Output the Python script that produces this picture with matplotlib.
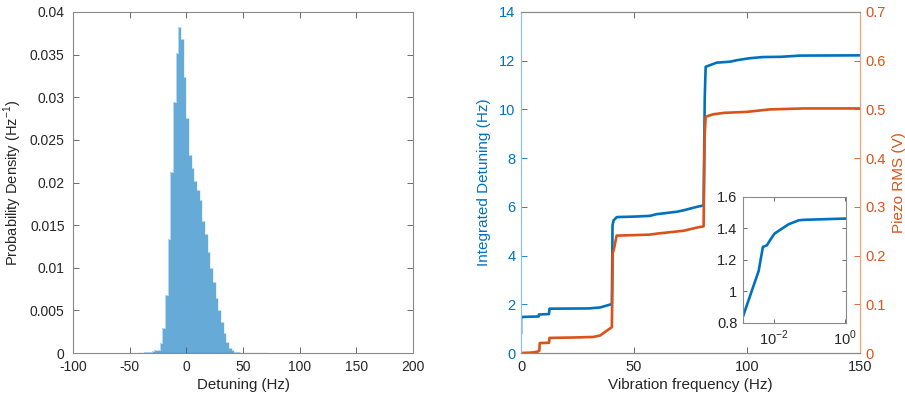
import matplotlib
matplotlib.use("Agg")
import matplotlib.pyplot as plt
import numpy as np

plt.rcParams['font.family'] = ['Liberation Sans', 'DejaVu Sans']
plt.rcParams['font.size'] = 10
plt.rcParams['mathtext.fontset'] = 'custom'
plt.rcParams['mathtext.rm'] = 'Liberation Sans'

# ---------------- Histogram data ----------------
bin_start = -42.3
bin_width = 2.35
hist_density = [0.00004, 0.00005, 0.00008, 0.0001, 0.00015, 0.0002, 0.0003, 0.0004,
                0.0012, 0.0029, 0.0068, 0.0134, 0.0212, 0.0295, 0.0352, 0.0382,
                0.0368, 0.0324, 0.0276, 0.0232, 0.0217, 0.0202, 0.0191, 0.0179,
                0.0155, 0.0140, 0.0118, 0.0100, 0.0083, 0.0064, 0.0051, 0.0036,
                0.0023, 0.0013, 0.0006, 0.0003, 0.00015, 0.0001, 0.00006, 0.00004,
                0.00003, 0.00003, 0.00002, 0.00002, 0.00002, 0.00001, 0.00001, 0.00001]

# ---------------- Integrated detuning (left axis) ----------------
det_freq = [0.0, 0.0, 0.3, 7.8, 7.9, 12.4, 12.6, 30.0, 35.0, 38.0, 40.2, 40.5, 41.0, 42.4,
            50.0, 57.0, 60.0, 69.0, 72.0, 77.8, 80.8, 81.3, 81.7, 83.7, 86.6, 92.5,
            95.5, 101.0, 107.0, 115.0, 123.5, 150.0]
det_val = [0.83, 1.45, 1.48, 1.50, 1.58, 1.60, 1.82, 1.83, 1.87, 1.95, 2.01, 5.25, 5.45, 5.58,
           5.60, 5.63, 5.70, 5.80, 5.86, 6.00, 6.06, 10.5, 11.75, 11.82, 11.92, 11.96,
           12.02, 12.10, 12.15, 12.16, 12.21, 12.22]

# ---------------- Piezo RMS (right axis) ----------------
pz_freq = [0.0, 5.0, 7.5, 8.1, 8.3, 12.4, 12.6, 25.0, 32.0, 35.0, 38.0, 40.2, 40.6, 41.2,
           42.3, 50.0, 57.0, 60.0, 64.0, 72.0, 77.8, 80.8, 81.2, 81.7, 85.0, 90.0,
           100.0, 110.0, 125.0, 150.0]
pz_val = [0.000, 0.001, 0.003, 0.005, 0.0205, 0.021, 0.031, 0.032, 0.033, 0.036, 0.046, 0.053,
          0.205, 0.215, 0.241, 0.242, 0.243, 0.245, 0.247, 0.251, 0.2575, 0.260, 0.44, 0.485,
          0.490, 0.493, 0.495, 0.500, 0.502, 0.502]

# ---------------- Inset (log frequency) ----------------
inset_freq = [1.39e-3, 3.8e-3, 5.0e-3, 6.45e-3, 8.1e-3, 1.05e-2, 1.55e-2, 2.63e-2,
              5.0e-2, 6.9e-2, 1.0]
inset_val = [0.842, 1.13, 1.283, 1.293, 1.329, 1.367, 1.393, 1.427, 1.452, 1.455, 1.463]

blue = '#0072BD'
orange = '#D95319'
hist_col = (0.40, 0.668, 0.845)
axcol = '#262626'

fig = plt.figure(figsize=(9.05, 3.97), dpi=100)

# ---------- Left histogram ----------
ax1 = fig.add_axes([0.0807, 0.1108, 0.3757, 0.859])
edges = bin_start + bin_width * np.arange(len(hist_density) + 1)
ax1.stairs(hist_density, edges, fill=True, color=hist_col, lw=0)
ax1.stairs(hist_density, edges, fill=False, color=(0.85, 0.92, 0.97), lw=0.5)
ax1.plot([edges[0], edges[-1]], [0.00002, 0.00002], color='#2a4f6e', lw=0.8)
ax1.set_xlim(-100, 200)
ax1.set_ylim(0, 0.04)
ax1.set_xticks([-100, -50, 0, 50, 100, 150, 200])
ax1.set_xticklabels(['-100', '-50', '0', '50', '100', '150', '200'])
ax1.set_yticks([0, 0.005, 0.01, 0.015, 0.02, 0.025, 0.03, 0.035, 0.04])
ax1.set_yticklabels(['0', '0.005', '0.01', '0.015', '0.02', '0.025', '0.03', '0.035', '0.04'])
ax1.set_xlabel('Detuning (Hz)', color=axcol, labelpad=3, fontsize=10.8)
ax1.set_ylabel('Probability Density (Hz$^{-1}$)', color=axcol, labelpad=4, fontsize=10.5)
ax1.tick_params(axis='x', direction='in', top=True, length=4, width=0.6,
                colors='#555555', labelcolor=axcol, pad=5)
ax1.tick_params(axis='y', direction='in', right=True, length=4, width=0.6,
                colors='#555555', labelcolor=axcol, pad=6)
for s in ax1.spines.values():
    s.set_color('#8a8a8a')
    s.set_linewidth(0.8)

# ---------- Right cumulative plot ----------
ax2 = fig.add_axes([0.5757, 0.1108, 0.3746, 0.859])
ax2.plot(det_freq, det_val, color=blue, lw=1.9)
ax2.set_xlim(0, 150)
ax2.set_ylim(0, 14)
ax2.set_xticks([0, 50, 100, 150])
ax2.set_yticks([0, 2, 4, 6, 8, 10, 12, 14])
ax2.set_xlabel('Vibration frequency (Hz)', color=axcol, labelpad=3, fontsize=11)
ax2.set_ylabel('Integrated Detuning (Hz)', color=blue, labelpad=6, fontsize=11)
ax2.tick_params(axis='x', direction='in', top=True, length=4, width=0.6,
                colors='#555555', labelcolor=axcol, pad=5, labelsize=10.5)
ax2.tick_params(axis='y', direction='in', length=4, width=0.6, colors=blue, pad=4,
                labelsize=10.5)

ax3 = ax2.twinx()
ax3.plot(pz_freq, pz_val, color=orange, lw=1.9)
ax3.set_ylim(0, 0.7)
ax3.set_yticks([0, 0.1, 0.2, 0.3, 0.4, 0.5, 0.6, 0.7])
ax3.set_yticklabels(['0', '0.1', '0.2', '0.3', '0.4', '0.5', '0.6', '0.7'])
ax3.set_ylabel('Piezo RMS (V)', color=orange, labelpad=4, fontsize=11)
ax3.tick_params(axis='y', direction='in', length=4, width=0.6, colors=orange, pad=4,
                labelsize=10.5)
for ax in (ax2, ax3):
    ax.spines['top'].set_color('#8a8a8a')
    ax.spines['bottom'].set_color('#8a8a8a')
    ax.spines['left'].set_color('#8fc0e3')
    ax.spines['right'].set_color('#f0a27c')
    for s in ax.spines.values():
        s.set_linewidth(0.8)

# ---------- Inset ----------
ax4 = fig.add_axes([0.821, 0.1864, 0.1138, 0.3174])
ax4.plot(inset_freq, inset_val, color=blue, lw=1.9)
ax4.set_xscale('log')
ax4.set_xlim(1.39e-3, 1.05)
ax4.set_ylim(0.8, 1.6)
ax4.set_xticks([1e-2, 1])
ax4.set_xticklabels(['$10^{-2}$', '$10^{0}$'])
ax4.xaxis.set_minor_locator(matplotlib.ticker.NullLocator())
ax4.set_yticks([0.8, 1.0, 1.2, 1.4, 1.6])
ax4.set_yticklabels(['0.8', '1', '1.2', '1.4', '1.6'])
ax4.tick_params(direction='in', top=True, right=True, length=3, width=0.6,
                colors='#555555', labelcolor=axcol, pad=4, labelsize=10.5)
for s in ax4.spines.values():
    s.set_color('#8a8a8a')
    s.set_linewidth(0.8)

fig.savefig('out.png', dpi=100)
